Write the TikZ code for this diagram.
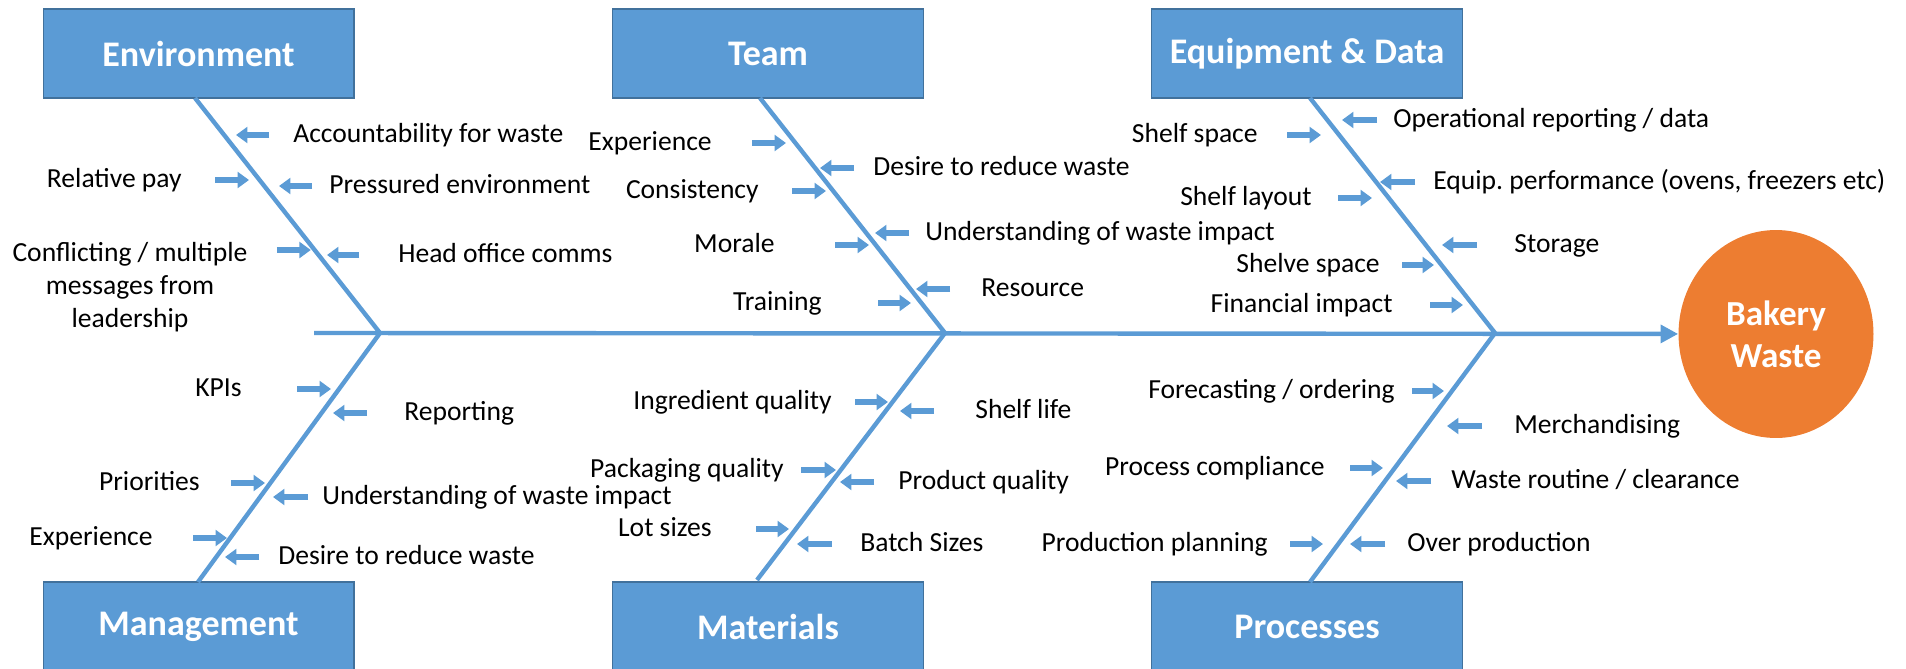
\documentclass[tikz,border=0pt]{standalone}
\usepackage{fontspec}
\setmainfont{Carlito}
\usepackage{tikz}
\usetikzlibrary{arrows.meta,%
	shapes.geometric}
\definecolor{fishblue}{HTML}{5B9BD5}
\definecolor{boxline}{HTML}{41719C}
\definecolor{fishorange}{HTML}{ED7D31}

\begin{document}
\begin{tikzpicture}[x=0.02cm,y=-0.02cm]
		\useasboundingbox (0,0) rectangle (1906,669);
		\tikzstyle{BoxStyle}=[draw=boxline,line width=0.6pt,fill=fishblue,text=white,inner sep=0pt,
			minimum width=6.22cm,minimum height=1.78cm,font=\bfseries\fontsize{20.5}{24}\selectfont]
		\tikzstyle{CauseStyle}=[inner sep=0pt,text height=11.3pt,text depth=3.1pt,font=\fontsize{15.7}{18.8}\selectfont]
		\tikzstyle{NoteStyle}=[inner sep=0pt,align=center,font=\fontsize{15.7}{18.8}\selectfont]
		\tikzstyle{BoneStyle}=[draw=fishblue,line width=2.5pt]
		\tikzstyle{CueStyle}=[draw=fishblue,line width=3pt,-{Triangle[length=6.5pt,width=9pt]}]
		% category boxes
		\node[BoxStyle] (env) at (198.5,53.5) {Environment};
		\node[BoxStyle] (team) at (768,53.5) {Team};
		\node[BoxStyle] (equip) at (1307,53.5) {Equipment \& Data};
		\node[BoxStyle] (mgmt) at (198.5,626.5) {Management};
		\node[BoxStyle] (mat) at (768,626.5) {Materials};
		\node[BoxStyle] (proc) at (1307,626.5) {Processes};
		\node[ellipse,fill=fishorange,text=white,inner sep=0pt,align=center,
			minimum width=3.9cm,minimum height=4.16cm,
			font=\bfseries\fontsize{20}{23.9}\selectfont] (waste) at (1776,334) {Bakery\\Waste};
		% bones
		\coordinate (envtop) at (195,98);
		\coordinate (envjoint) at (380,333);
		\coordinate (mgmtfoot) at (198,582);
		\coordinate (teamtop) at (760,98);
		\coordinate (teamjoint) at (945,333);
		\coordinate (matfoot) at (757,580);
		\coordinate (equiptop) at (1310,98);
		\coordinate (equipjoint) at (1495,333);
		\coordinate (procfoot) at (1310,582);
		\coordinate (tail) at (314,333);
		\draw[BoneStyle] (envtop) -- (envjoint) -- (mgmtfoot);
		\draw[BoneStyle] (teamtop) -- (teamjoint) -- (matfoot);
		\draw[BoneStyle] (equiptop) -- (equipjoint) -- (procfoot);
		\draw[BoneStyle,-{Triangle[length=10pt,width=10pt]}] (tail) -- (waste);
		% environment
		\node[CauseStyle,anchor=west] (acc) at (293,135) {Accountability for waste};
		\draw[CueStyle] (acc.west) ++(-24,0) -- +(-33,0);
		\node[CauseStyle,anchor=east] (pay) at (182,180) {Relative pay};
		\draw[CueStyle] (pay.east) ++(33,0) -- +(34,0);
		\node[CauseStyle,anchor=west] (press) at (329,186) {Pressured environment};
		\draw[CueStyle] (press.west) ++(-17,0) -- +(-33,0);
		\node[NoteStyle] (conf) at (130,287) {Conflicting / multiple\\messages from\\leadership};
		\draw[CueStyle] (conf.east) ++(29,-37) -- +(34,0);
		\node[CauseStyle,anchor=west] (comms) at (398,255) {Head office comms};
		\draw[CueStyle] (comms.west) ++(-39,0) -- +(-32,0);
		% team
		\node[CauseStyle,anchor=east] (exp) at (712,143) {Experience};
		\draw[CueStyle] (exp.east) ++(40,0) -- +(34,0);
		\node[CauseStyle,anchor=west] (desire) at (873,168) {Desire to reduce waste};
		\draw[CueStyle] (desire.west) ++(-19,0) -- +(-34,0);
		\node[CauseStyle,anchor=east] (cons) at (759,191) {Consistency};
		\draw[CueStyle] (cons.east) ++(33,0) -- +(34,0);
		\node[CauseStyle,anchor=west] (impact) at (925,233) {Understanding of waste impact};
		\draw[CueStyle] (impact.west) ++(-16,0) -- +(-34,0);
		\node[CauseStyle,anchor=east] (morale) at (775,245) {Morale};
		\draw[CueStyle] (morale.east) ++(60,0) -- +(34,0);
		\node[CauseStyle,anchor=west] (res) at (981,289) {Resource};
		\draw[CueStyle] (res.west) ++(-31,0) -- +(-34,0);
		\node[CauseStyle,anchor=east] (train) at (822,303) {Training};
		\draw[CueStyle] (train.east) ++(56,0) -- +(33,0);
		% equipment and data
		\node[CauseStyle,anchor=east] (space) at (1258,135) {Shelf space};
		\draw[CueStyle] (space.east) ++(29,0) -- +(34,0);
		\node[CauseStyle,anchor=west] (ops) at (1393,120) {Operational reporting / data};
		\draw[CueStyle] (ops.west) ++(-16,0) -- +(-35,0);
		\node[CauseStyle,anchor=west] (perf) at (1433,182) {Equip.\ performance (ovens, freezers etc)};
		\draw[CueStyle] (perf.west) ++(-18,0) -- +(-35,0);
		\node[CauseStyle,anchor=east] (layout) at (1312,198) {Shelf layout};
		\draw[CueStyle] (layout.east) ++(26,0) -- +(34,0);
		\node[CauseStyle,anchor=west] (store) at (1514,245) {Storage};
		\draw[CueStyle] (store.west) ++(-37,0) -- +(-35,0);
		\node[CauseStyle,anchor=east] (shelve) at (1380,265) {Shelve space};
		\draw[CueStyle] (shelve.east) ++(22,0) -- +(32,0);
		\node[CauseStyle,anchor=east] (fin) at (1393,305) {Financial impact};
		\draw[CueStyle] (fin.east) ++(37,0) -- +(33,0);
		% management
		\node[CauseStyle,anchor=east] (kpi) at (242,389) {KPIs};
		\draw[CueStyle] (kpi.east) ++(55,0) -- +(34,0);
		\node[CauseStyle,anchor=west] (rep) at (404,413) {Reporting};
		\draw[CueStyle] (rep.west) ++(-37,0) -- +(-34,0);
		\node[CauseStyle,anchor=east] (prio) at (200,483) {Priorities};
		\draw[CueStyle] (prio.east) ++(31,0) -- +(34,0);
		\node[CauseStyle,anchor=west] (impact2) at (322,497) {Understanding of waste impact};
		\draw[CueStyle] (impact2.west) ++(-14,0) -- +(-35,0);
		\node[CauseStyle,anchor=east] (exp2) at (153,538) {Experience};
		\draw[CueStyle] (exp2.east) ++(40,0) -- +(34,0);
		\node[CauseStyle,anchor=west] (desire2) at (278,557) {Desire to reduce waste};
		\draw[CueStyle] (desire2.west) ++(-19,0) -- +(-34,0);
		% materials
		\node[CauseStyle,anchor=east] (ingr) at (832,402) {Ingredient quality};
		\draw[CueStyle] (ingr.east) ++(23,0) -- +(33,0);
		\node[CauseStyle,anchor=west] (life) at (975,411) {Shelf life};
		\draw[CueStyle] (life.west) ++(-41,0) -- +(-34,0);
		\node[CauseStyle,anchor=east] (pack) at (784,470) {Packaging quality};
		\draw[CueStyle] (pack.east) ++(17,0) -- +(35,0);
		\node[CauseStyle,anchor=west] (prod) at (898,482) {Product quality};
		\draw[CueStyle] (prod.west) ++(-24,0) -- +(-34,0);
		\node[CauseStyle,anchor=east] (lot) at (712,529) {Lot sizes};
		\draw[CueStyle] (lot.east) ++(44,0) -- +(33,0);
		\node[CauseStyle,anchor=west] (batch) at (860,544) {Batch Sizes};
		\draw[CueStyle] (batch.west) ++(-28,0) -- +(-35,0);
		% processes
		\node[CauseStyle,anchor=east] (fore) at (1395,391) {Forecasting / ordering};
		\draw[CueStyle] (fore.east) ++(17,0) -- +(32,0);
		\node[CauseStyle,anchor=west] (merch) at (1514,426) {Merchandising};
		\draw[CueStyle] (merch.west) ++(-32,0) -- +(-35,0);
		\node[CauseStyle,anchor=east] (comp) at (1325,468) {Process compliance};
		\draw[CueStyle] (comp.east) ++(25,0) -- +(33,0);
		\node[CauseStyle,anchor=west] (routine) at (1451,481) {Waste routine / clearance};
		\draw[CueStyle] (routine.west) ++(-20,0) -- +(-35,0);
		\node[CauseStyle,anchor=east] (plan) at (1268,544) {Production planning};
		\draw[CueStyle] (plan.east) ++(22,0) -- +(33,0);
		\node[CauseStyle,anchor=west] (over) at (1407,544) {Over production};
		\draw[CueStyle] (over.west) ++(-22,0) -- +(-35,0);
\end{tikzpicture}
\end{document}
